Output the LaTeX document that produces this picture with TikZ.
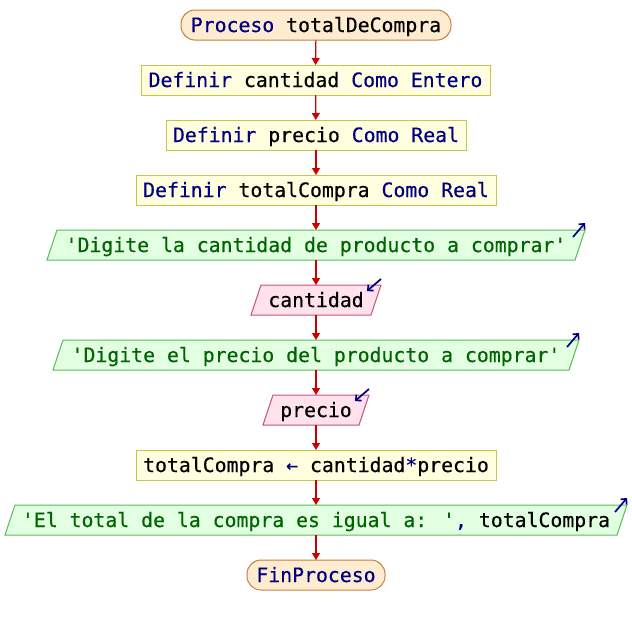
\documentclass[tikz,border=0pt]{standalone}
\usepackage{fontspec}
\usetikzlibrary{arrows.meta,calc}
\newfontfamily\codefont[FakeBold=0.4]{DejaVu Sans Mono}

\definecolor{kw}{RGB}{0,0,128}
\definecolor{str}{RGB}{0,100,0}
\definecolor{termfill}{RGB}{253,236,208}
\definecolor{termline}{RGB}{196,128,64}
\definecolor{procfill}{RGB}{255,255,224}
\definecolor{procline}{RGB}{200,196,72}
\definecolor{outfill}{RGB}{226,255,226}
\definecolor{outline}{RGB}{88,190,88}
\definecolor{infill}{RGB}{255,226,236}
\definecolor{inline}{RGB}{196,84,128}
\definecolor{flowred}{RGB}{204,0,0}

\pgfdeclarelayer{bg}
\pgfsetlayers{bg,main}

\newcommand{\K}[1]{\textcolor{kw}{#1}}
\newcommand{\Str}[1]{\textcolor{str}{#1}}

% slanted in/out box drawn behind a text node
\newcommand{\slantbox}[3]{%
  \begin{pgfonlayer}{bg}
    \filldraw[fill=#2,draw=#3,line width=1pt]
      ($(#1.south west)+(-5,0)$) -- ($(#1.north west)+(5,0)$) --
      ($(#1.north east)+(5,0)$) -- ($(#1.south east)+(-5,0)$) -- cycle;
  \end{pgfonlayer}}

\tikzset{
  base/.style={font=\codefont\fontsize{19.8}{22}\selectfont, inner sep=0pt, outer sep=0pt,
    minimum height=30pt, text height=16pt, text depth=2pt, anchor=center},
  term/.style={base, draw=termline, fill=termfill, line width=1pt, rounded corners=14pt},
  proc/.style={base, draw=procline, fill=procfill, line width=1pt},
  io/.style={base},
  flow/.style={draw=flowred, line width=1.2pt, -{Triangle[width=8pt,length=7pt]}},
  outmark/.style={draw=kw, line width=1.7pt, -{Straight Barb[length=4pt,width=8pt]}},
}

\begin{document}
\begin{tikzpicture}[x=1pt,y=-1pt]
\useasboundingbox (0,0) rectangle (632,625);

\node[term, minimum width=270] (start) at (316,25) {\K{Proceso} totalDeCompra};
\node[proc, minimum width=349] (d1) at (315.5,80) {\K{Definir} cantidad \K{Como} \K{Entero}};
\node[proc, minimum width=300] (d2) at (316,135) {\K{Definir} precio \K{Como} \K{Real}};
\node[proc, minimum width=360] (d3) at (316,190) {\K{Definir} totalCompra \K{Como} \K{Real}};
\node[io, minimum width=528] (o1) at (316,245) {\Str{'Digite la cantidad de producto a comprar'}};
\node[io, minimum width=120] (i1) at (316,300) {cantidad};
\node[io, minimum width=516] (o2) at (316,355) {\Str{'Digite el precio del producto a comprar'}};
\node[io, minimum width=96] (i2) at (316,410) {precio};
\node[proc, minimum width=360] (a1) at (316,465) {totalCompra \K{←} cantidad\K{*}precio};
\node[io, minimum width=612] (o3) at (316,520) {\Str{'El total de la compra es igual a: '}\K{,} totalCompra};
\node[term, minimum width=138] (fin) at (316,575) {\K{FinProceso}};

% input / output shapes
\slantbox{o1}{outfill}{outline}
\slantbox{i1}{infill}{inline}
\slantbox{o2}{outfill}{outline}
\slantbox{i2}{infill}{inline}
\slantbox{o3}{outfill}{outline}

% direction marks on the in/out shapes
\foreach \n in {o1,o2,o3}
  \draw[outmark] ($(\n.north east)+(-7,7)$) -- ($(\n.north east)+(5,-7)$);
\foreach \n in {i1,i2}
  \draw[outmark] ($(\n.north east)+(5,-6)$) -- ($(\n.north east)+(-9,6)$);

% flow connectors
\draw[flow] (start) -- (d1);
\draw[flow] (d1) -- (d2);
\draw[flow] (d2) -- (d3);
\draw[flow] (d3) -- (o1);
\draw[flow] (o1) -- (i1);
\draw[flow] (i1) -- (o2);
\draw[flow] (o2) -- (i2);
\draw[flow] (i2) -- (a1);
\draw[flow] (a1) -- (o3);
\draw[flow] (o3) -- (fin);
\end{tikzpicture}
\end{document}
